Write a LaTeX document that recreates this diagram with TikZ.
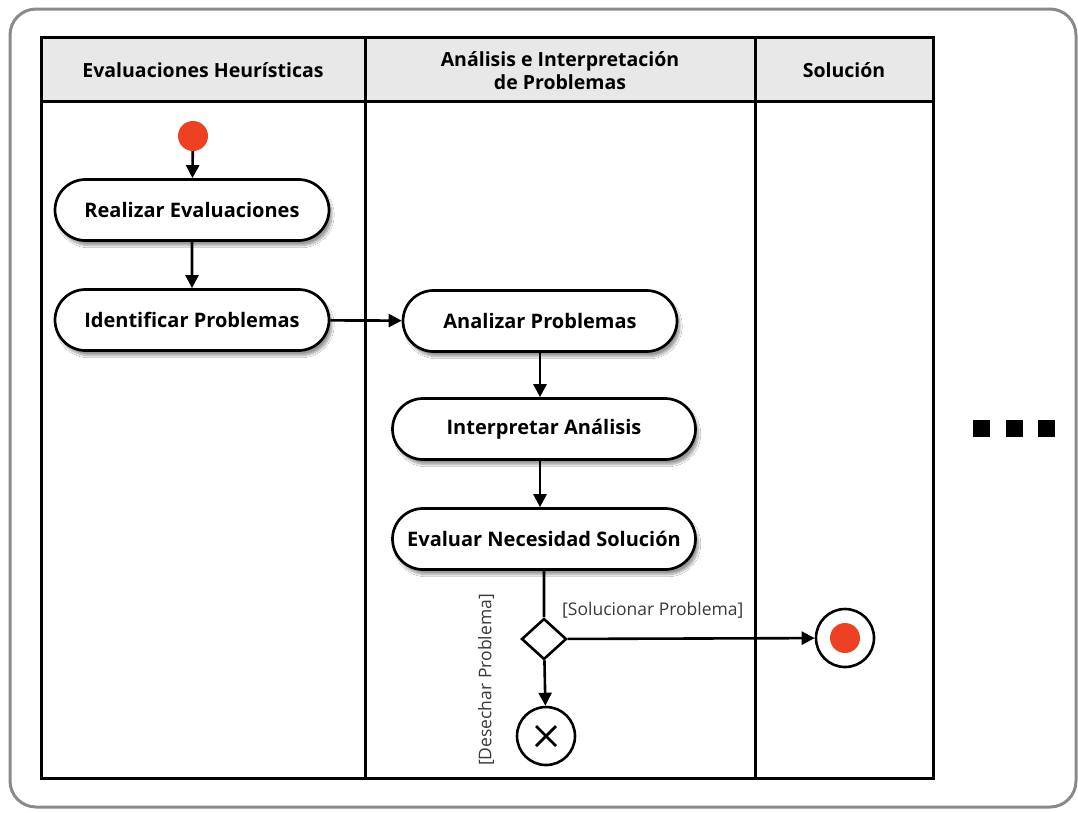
\documentclass[tikz,border=0pt]{standalone}
\usepackage{fontspec}
\setmainfont{Open Sans}
\usetikzlibrary{arrows.meta,shapes.geometric,shapes.misc,shadows.blur}
\definecolor{dotred}{HTML}{EE4124}
\definecolor{headgray}{HTML}{E8E8E8}
\definecolor{framegray}{HTML}{8A8A8A}
\definecolor{guardgray}{HTML}{3A3A3A}
\begin{document}
\begin{tikzpicture}[x=1pt,y=-1pt,
  lanehead/.style={font=\bfseries\fontsize{19.5}{23}\selectfont,align=center},
  action/.style={rounded rectangle,draw,line width=2.7pt,fill=white,
    minimum height=61pt,inner xsep=8pt,
    font=\bfseries\fontsize{20}{23}\selectfont,
    blur shadow={shadow xshift=3pt,shadow yshift=-5pt,shadow blur steps=10,shadow opacity=40}},
  flow/.style={line width=2.6pt,-{Triangle[length=13pt,width=13pt]}},
  plain/.style={line width=2.6pt},
  guard/.style={font=\fontsize{17.5}{20}\selectfont,text=guardgray,inner sep=2pt}]
\useasboundingbox (0,0) rectangle (1078,812);
\fill[white] (0,0) rectangle (1078,812);

% outer frame
\draw[framegray,line width=3pt,rounded corners=26pt] (10,9) rectangle (1076,807);

% swimlane table
\fill[headgray] (41,37) rectangle (933,101);
\draw[line width=3pt] (41,37) rectangle (933,778);
\draw[line width=3pt] (41,101) -- (933,101);
\draw[line width=3pt] (365,37) -- (365,778);
\draw[line width=3pt] (755,37) -- (755,778);

\node[lanehead] (h1) at (203,70) {Evaluaciones Heurísticas};
\node[lanehead] (h2) at (560,71) {Análisis e Interpretación\\de Problemas};
\node[lanehead] (h3) at (844,70) {Solución};

% activities
\node[circle,fill=dotred,minimum size=30pt,inner sep=0pt] (start) at (193,136) {};
\node[action,minimum width=290pt] (realizar) at (192,210) {Realizar Evaluaciones};
\node[action,minimum width=290pt] (identificar) at (192,320) {Identificar Problemas};
\node[action,minimum width=290pt] (analizar) at (540,321) {Analizar Problemas};
\node[action,minimum width=319pt] (interpretar) at (544,429) {Interpretar Análisis};
\node[action,minimum width=319pt] (evaluar) at (544,539) {Evaluar Necesidad Solución};

% decision and end nodes
\node[diamond,draw,line width=2.6pt,fill=white,minimum width=45pt,minimum height=41pt,inner sep=0pt] (dec) at (544,639) {};
\node[circle,draw,line width=2.6pt,minimum size=58pt,inner sep=0pt] (flowend) at (546,736) {};
\draw[line width=2.8pt] ([shift={(-10pt,-10pt)}]flowend.center) -- ([shift={(10pt,10pt)}]flowend.center);
\draw[line width=2.8pt] ([shift={(-10pt,10pt)}]flowend.center) -- ([shift={(10pt,-10pt)}]flowend.center);
\node[circle,draw,line width=2.6pt,minimum size=58pt,inner sep=0pt] (final) at (845,638) {};
\node[circle,fill=dotred,minimum size=30pt,inner sep=0pt] (finaldot) at (final.center) {};

% connectors
\draw[flow] (start) -- (realizar);
\draw[flow] (realizar) -- (identificar);
\draw[flow] (identificar) -- (analizar);
\draw[flow] (analizar.south) -- (analizar.south |- interpretar.north);
\draw[flow] (interpretar.south -| analizar.south) -- (analizar.south |- evaluar.north);
\draw[plain] (evaluar) -- (dec);
\draw[flow] (dec) -- (flowend);
\draw[flow] (dec) -- (final);

% guards
\node[guard,anchor=south west] (gsol) at (560,620) {[Solucionar Problema]};
\node[guard,rotate=90] (gdes) at (486,680) {[Desechar Problema]};

% continuation marks
\fill (973,420) rectangle (990,437);
\fill (1006,420) rectangle (1023,437);
\fill (1038,420) rectangle (1055,437);
\end{tikzpicture}
\end{document}
